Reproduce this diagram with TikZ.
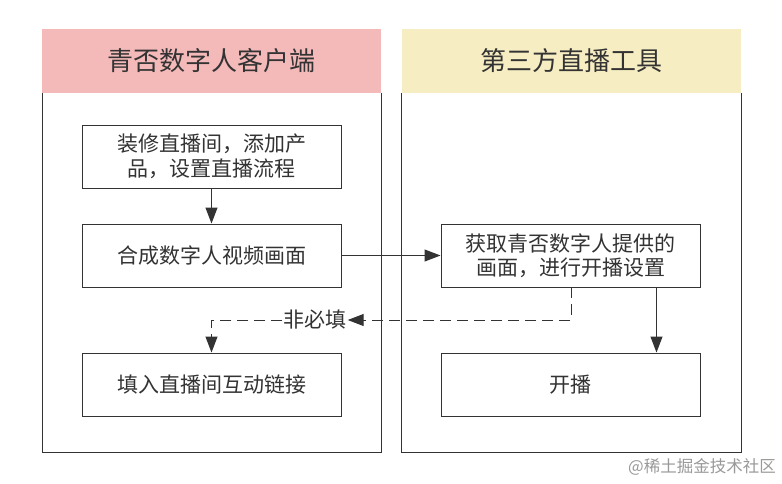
\documentclass[tikz,border=0pt]{standalone}
\usepackage{fontspec}
\setmainfont{Noto Sans CJK SC}
\newfontfamily\cjk{Noto Sans CJK SC}
\usetikzlibrary{arrows.meta,positioning}
\definecolor{linec}{HTML}{333333}
\definecolor{pinkh}{HTML}{F4B9B9}
\definecolor{yellowh}{HTML}{F6EEC2}
\begin{document}
\begin{tikzpicture}[x=1pt,y=-1pt,
  pool/.style={draw=linec,line width=1pt},
  hdr/.style={inner sep=0pt,minimum width=339pt,minimum height=64pt,font=\cjk\fontsize{26}{30}\selectfont,text=linec},
  proc/.style={draw=linec,line width=1pt,minimum width=259pt,minimum height=63pt,inner sep=1pt,align=center,font=\cjk\fontsize{21}{24.5}\selectfont,text=linec},
  arr/.style={draw=linec,line width=1pt,-{Triangle[length=16pt,width=12pt]}},
  darr/.style={arr,dash pattern=on 11pt off 6pt}]
\useasboundingbox (0,0) rectangle (782,483);
\fill[white] (0,0) rectangle (782,483);
% pools
\draw[pool] (42,93) -- (42,452) -- (381,452) -- (381,93);
\draw[pool] (401,93) -- (401,452) -- (741,452) -- (741,93);
\node[hdr,fill=pinkh] (h1) at (211.5,61) {青否数字人客户端};
\node[hdr,fill=yellowh] (h2) at (571,61) {第三方直播工具};
% boxes
\node[proc] (b1) at (211.5,156.5) {装修直播间，添加产\\品，设置直播流程};
\node[proc] (b2) at (211.5,255.5) {合成数字人视频画面};
\node[proc] (b3) at (211.5,384.5) {填入直播间互动链接};
\node[proc] (b4) at (570.5,255.5) {获取青否数字人提供的\\画面，进行开播设置};
\node[proc] (b5) at (570.5,384.5) {开播};
% label
\node[inner sep=1pt,font=\cjk\fontsize{21}{24}\selectfont,text=linec] (lab) at (315,320) {非必填};
\coordinate (d1) at (571,287);
% connectors
\draw[arr] (b1) -- (b2);
\draw[arr] (b2) -- (b4);
\draw[arr] ([xshift=86pt]b4.south) -- ([xshift=86pt]b5.north);
\draw[darr] (d1) |- (lab.east);
\draw[darr] (lab.west) -| (b3.north);
% watermark
\node[anchor=east,inner sep=0pt,font=\cjk\fontsize{16.5}{18}\selectfont,text=black!40] (wm) at (776,467) {@稀土掘金技术社区};
\end{tikzpicture}
\end{document}
